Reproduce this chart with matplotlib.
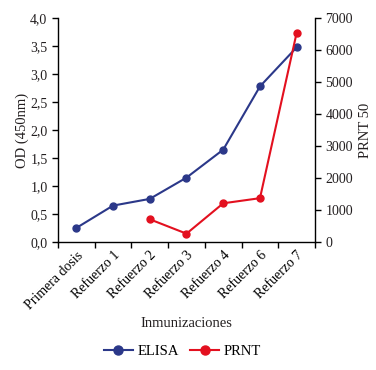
import numpy as np
import matplotlib.pyplot as plt
from matplotlib.ticker import FuncFormatter

plt.rcParams['font.family'] = ['Liberation Serif', 'DejaVu Serif']
plt.rcParams['font.size'] = 10

# Data
categories = ["Primera dosis", "Refuerzo 1", "Refuerzo 2", "Refuerzo 3",
              "Refuerzo 4", "Refuerzo 6", "Refuerzo 7"]
elisa = [0.25, 0.65, 0.77, 1.15, 1.65, 2.78, 3.48]
prnt_labels = ["Refuerzo 2", "Refuerzo 3", "Refuerzo 4", "Refuerzo 6", "Refuerzo 7"]
prnt = [710, 260, 1210, 1370, 6550]

blue = '#2b3889'
red = '#e3101f'
txt = '#231f20'

fig = plt.figure(figsize=(3.76, 3.70), dpi=100)
ax = fig.add_axes([0.154, 0.346, 0.684, 0.605])
ax2 = ax.twinx()

x = np.arange(len(categories)) + 0.5
xp = [categories.index(c) + 0.5 for c in prnt_labels]

l1, = ax.plot(x, elisa, '-o', color=blue, lw=1.5, ms=5, label='ELISA')
l2, = ax2.plot(xp, prnt, '-o', color=red, lw=1.5, ms=5, label='PRNT')

ax.set_xlim(0, len(categories))
ax.set_ylim(0, 4)
ax2.set_ylim(0, 7000)
ax.set_yticks(np.arange(0, 4.01, 0.5))
ax.yaxis.set_major_formatter(FuncFormatter(lambda v, p: f"{v:.1f}".replace('.', ',')))
ax2.set_yticks(np.arange(0, 7001, 1000))

ax.set_xticks(np.arange(len(categories) + 1))
ax.set_xticklabels([])
ax.set_xticks(x, minor=True)
ax.set_xticklabels(categories, minor=True, rotation=45, ha='right',
                   rotation_mode='anchor')
ax.tick_params(axis='x', which='minor', length=0, pad=5)

for a in (ax, ax2):
    a.spines['top'].set_visible(False)
    a.tick_params(which='major', direction='out', length=4, width=1, colors='black',
                  labelcolor=txt)
    for s in a.spines.values():
        s.set_linewidth(1)
ax.spines['right'].set_visible(False)
ax2.spines['left'].set_visible(False)
ax2.spines['bottom'].set_visible(False)

ax.set_ylabel('OD (450nm)', color=txt, fontsize=10.5, labelpad=1)
ax2.set_ylabel('PRNT 50', color=txt, fontsize=10.5)
ax.set_xlabel('Inmunizaciones', color=txt, fontsize=10.5, labelpad=4)

fig.legend(handles=[l1, l2], loc='center', bbox_to_anchor=(0.485, 0.05), ncol=2,
           frameon=False, handlelength=2.0, columnspacing=0.8, handletextpad=0.3,
           markerscale=1.3, fontsize=10.5)

fig.savefig('out.png', dpi=100)
